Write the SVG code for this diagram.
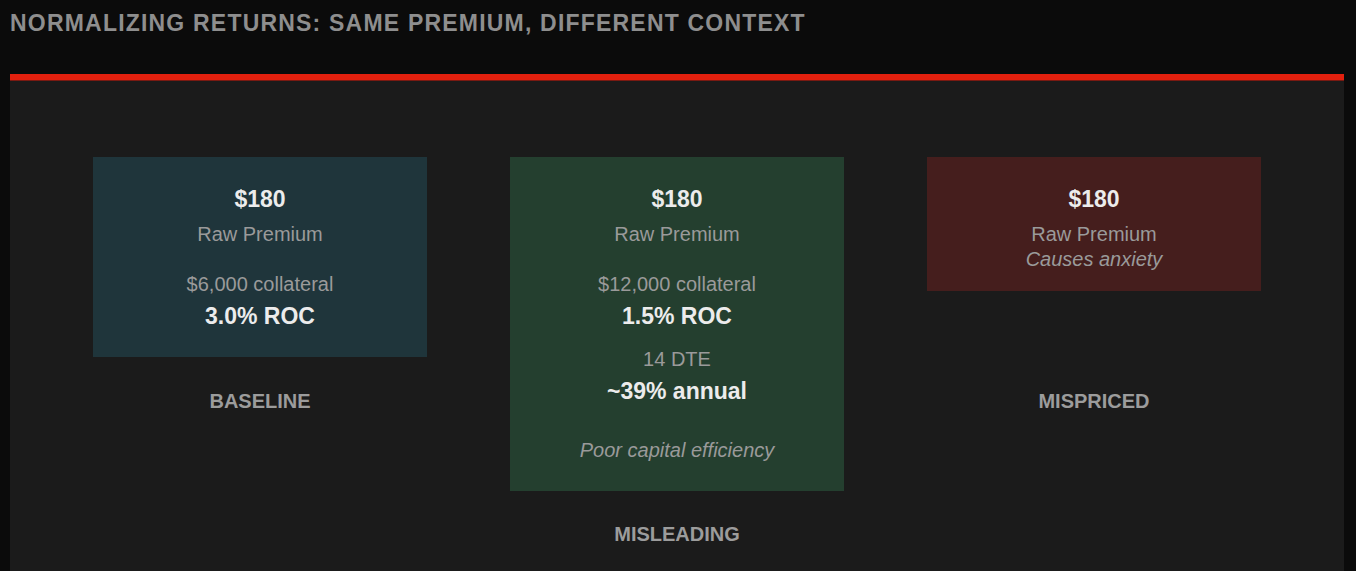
<svg xmlns="http://www.w3.org/2000/svg" width="1356" height="571" viewBox="0 0 1356 571">
<style>
.t{font-family:"Liberation Sans",Arial,sans-serif;text-anchor:middle}
.v{font-size:23px;font-weight:bold;fill:#ececec}
.s{font-size:20px;fill:#9a9a9a}
.i{font-size:20px;fill:#9a9a9a;font-style:italic}
.lab{font-size:20px;font-weight:bold;fill:#9c9c9c}
</style>
<rect x="0" y="0" width="1356" height="571" fill="#0b0b0b"/>
<text x="10" y="31" font-family="'Liberation Sans',Arial,sans-serif" font-size="23" font-weight="bold" fill="#8e8e8e" letter-spacing="1.2">NORMALIZING RETURNS: SAME PREMIUM, DIFFERENT CONTEXT</text>
<rect x="10" y="80" width="1334" height="491" fill="#1b1b1b"/>
<rect x="10" y="74" width="1334" height="6" fill="#e3200e"/>
<rect x="10" y="80" width="1334" height="1" fill="#7a1a12"/>
<g id="connectors"></g>
<g id="baseline">
<rect x="93" y="157" width="334" height="200" fill="#1f353b"/>
<text class="t v" x="260" y="207">$180</text>
<text class="t s" x="260" y="241">Raw Premium</text>
<text class="t s" x="260" y="291">$6,000 collateral</text>
<text class="t v" x="260" y="324">3.0% ROC</text>
<text class="t lab" x="260" y="408">BASELINE</text>
</g>
<g id="misleading">
<rect x="510" y="157" width="334" height="334" fill="#243f2f"/>
<text class="t v" x="677" y="207">$180</text>
<text class="t s" x="677" y="241">Raw Premium</text>
<text class="t s" x="677" y="291">$12,000 collateral</text>
<text class="t v" x="677" y="324">1.5% ROC</text>
<text class="t s" x="677" y="366">14 DTE</text>
<text class="t v" x="677" y="399">~39% annual</text>
<text class="t i" x="677" y="457">Poor capital efficiency</text>
<text class="t lab" x="677" y="541">MISLEADING</text>
</g>
<g id="mispriced">
<rect x="927" y="157" width="334" height="134" fill="#451e1d"/>
<text class="t v" x="1094" y="207">$180</text>
<text class="t s" x="1094" y="241">Raw Premium</text>
<text class="t i" x="1094" y="266">Causes anxiety</text>
<text class="t lab" x="1094" y="408">MISPRICED</text>
</g>
</svg>
